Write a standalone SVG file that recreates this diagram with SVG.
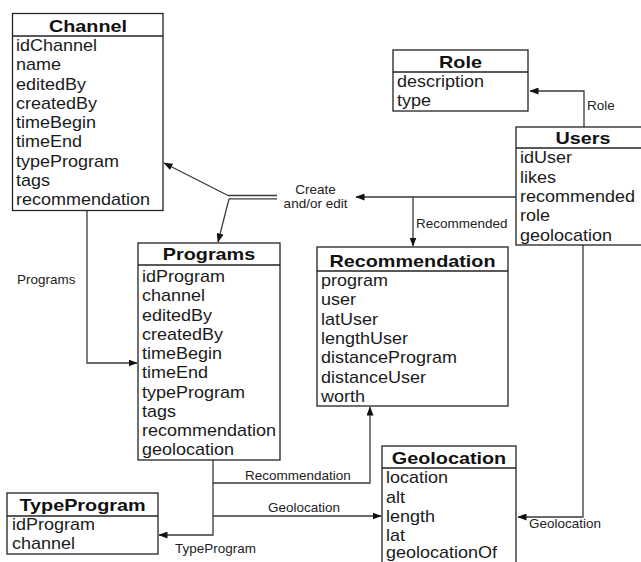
<svg xmlns="http://www.w3.org/2000/svg" width="641" height="562" viewBox="0 0 641 562">
<defs>
<marker id="ah" markerWidth="9" markerHeight="7" refX="8.5" refY="3.5" orient="auto" markerUnits="userSpaceOnUse">
<path d="M0,0 L9,3.5 L0,7 z" fill="#111"/>
</marker>
<style>
.box{fill:#fff;stroke:#222;stroke-width:1.3}
.div{stroke:#222;stroke-width:1.3}
.t{font-family:"Liberation Sans",Arial,sans-serif;font-weight:bold;font-size:16.5px;fill:#111;text-anchor:middle}
.r{font-family:"Liberation Sans",Arial,sans-serif;font-size:16px;fill:#1a1a1a}
.l{font-family:"Liberation Sans",Arial,sans-serif;font-size:12px;fill:#222}
.c{fill:none;stroke:#3a3a3a;stroke-width:1.3}
.ca{fill:none;stroke:#3a3a3a;stroke-width:1.3;marker-end:url(#ah)}
</style>
</defs>
<rect width="641" height="562" fill="#fff"/>

<g id="connectors">
<line class="ca" x1="516" y1="197" x2="356" y2="197"/>
<line class="ca" x1="413" y1="197" x2="413" y2="246"/>
<line class="c" x1="228" y1="195.5" x2="277" y2="195.5"/>
<line class="c" x1="229" y1="198.8" x2="277" y2="198.8"/>
<line class="ca" x1="228" y1="195.5" x2="164" y2="163"/>
<line class="ca" x1="229" y1="198.8" x2="218" y2="242"/>
<polyline class="ca" points="584,127 584,91 530,91"/>
<polyline class="ca" points="583,245 583,517 518,517"/>
<polyline class="ca" points="87,211 87,363 137,363"/>
<polyline class="ca" points="213,460 213,483 370,483 370,407"/>
<line class="ca" x1="213" y1="516" x2="381" y2="516"/>
<polyline class="ca" points="213,483 213,535 159,535"/>

<text class="l" text-anchor="middle" transform="translate(315.5,194) scale(1.125,1)">Create</text>
<text class="l" text-anchor="middle" transform="translate(315.5,208) scale(1.125,1)">and/or edit</text>
<text class="l" transform="translate(416,228) scale(1.125,1)">Recommended</text>
<text class="l" transform="translate(587,110) scale(1.125,1)">Role</text>
<text class="l" transform="translate(529,528) scale(1.125,1)">Geolocation</text>
<text class="l" transform="translate(17,284) scale(1.125,1)">Programs</text>
<text class="l" transform="translate(245,480) scale(1.125,1)">Recommendation</text>
<text class="l" transform="translate(268,512) scale(1.125,1)">Geolocation</text>
<text class="l" transform="translate(175,553) scale(1.125,1)">TypeProgram</text>
</g>

<g id="channel">
<rect class="box" x="12.5" y="13.5" width="150.5" height="197"/>
<line class="div" x1="12.5" y1="36" x2="163" y2="36"/>
<text class="t" transform="translate(88,32) scale(1.2,1)">Channel</text>
<text class="r" transform="translate(16,51) scale(1.125,1)">idChannel</text>
<text class="r" transform="translate(16,70.3) scale(1.125,1)">name</text>
<text class="r" transform="translate(16,89.5) scale(1.125,1)">editedBy</text>
<text class="r" transform="translate(16,108.8) scale(1.125,1)">createdBy</text>
<text class="r" transform="translate(16,128) scale(1.125,1)">timeBegin</text>
<text class="r" transform="translate(16,147.3) scale(1.125,1)">timeEnd</text>
<text class="r" transform="translate(16,166.5) scale(1.125,1)">typeProgram</text>
<text class="r" transform="translate(16,185.8) scale(1.125,1)">tags</text>
<text class="r" transform="translate(16,205) scale(1.125,1)">recommendation</text>
</g>

<g id="programs">
<rect class="box" x="138" y="243" width="142" height="217"/>
<line class="div" x1="138" y1="265" x2="280" y2="265"/>
<text class="t" transform="translate(209,260) scale(1.2,1)">Programs</text>
<text class="r" transform="translate(142,282) scale(1.125,1)">idProgram</text>
<text class="r" transform="translate(142,301.2) scale(1.125,1)">channel</text>
<text class="r" transform="translate(142,320.5) scale(1.125,1)">editedBy</text>
<text class="r" transform="translate(142,339.7) scale(1.125,1)">createdBy</text>
<text class="r" transform="translate(142,359) scale(1.125,1)">timeBegin</text>
<text class="r" transform="translate(142,378.2) scale(1.125,1)">timeEnd</text>
<text class="r" transform="translate(142,397.5) scale(1.125,1)">typeProgram</text>
<text class="r" transform="translate(142,416.7) scale(1.125,1)">tags</text>
<text class="r" transform="translate(142,436) scale(1.125,1)">recommendation</text>
<text class="r" transform="translate(142,455.2) scale(1.125,1)">geolocation</text>
</g>

<g id="recommendation">
<rect class="box" x="317" y="247" width="191" height="159"/>
<line class="div" x1="317" y1="271" x2="508" y2="271"/>
<text class="t" transform="translate(412.5,267) scale(1.2,1)">Recommendation</text>
<text class="r" transform="translate(321,286) scale(1.125,1)">program</text>
<text class="r" transform="translate(321,305.3) scale(1.125,1)">user</text>
<text class="r" transform="translate(321,324.6) scale(1.125,1)">latUser</text>
<text class="r" transform="translate(321,343.9) scale(1.125,1)">lengthUser</text>
<text class="r" transform="translate(321,363.2) scale(1.125,1)">distanceProgram</text>
<text class="r" transform="translate(321,382.5) scale(1.125,1)">distanceUser</text>
<text class="r" transform="translate(321,401.8) scale(1.125,1)">worth</text>
</g>

<g id="role">
<rect class="box" x="393" y="50" width="135" height="61"/>
<line class="div" x1="393" y1="72" x2="528" y2="72"/>
<text class="t" transform="translate(460.5,68) scale(1.2,1)">Role</text>
<text class="r" transform="translate(397,86.5) scale(1.125,1)">description</text>
<text class="r" transform="translate(397,105.8) scale(1.125,1)">type</text>
</g>

<g id="users">
<rect class="box" x="516" y="127" width="130" height="118"/>
<line class="div" x1="516" y1="148" x2="646" y2="148"/>
<text class="t" transform="translate(583,144) scale(1.2,1)">Users</text>
<text class="r" transform="translate(520,163.3) scale(1.125,1)">idUser</text>
<text class="r" transform="translate(520,182.6) scale(1.125,1)">likes</text>
<text class="r" transform="translate(520,201.9) scale(1.125,1)">recommended</text>
<text class="r" transform="translate(520,221.2) scale(1.125,1)">role</text>
<text class="r" transform="translate(520,240.5) scale(1.125,1)">geolocation</text>
</g>

<g id="typeprogram">
<rect class="box" x="7" y="493" width="151" height="61"/>
<line class="div" x1="7" y1="516" x2="158" y2="516"/>
<text class="t" transform="translate(82.5,511) scale(1.2,1)">TypeProgram</text>
<text class="r" transform="translate(12,530) scale(1.125,1)">idProgram</text>
<text class="r" transform="translate(12,549.3) scale(1.125,1)">channel</text>
</g>

<g id="geolocation">
<rect class="box" x="382" y="446" width="134" height="130"/>
<line class="div" x1="382" y1="468" x2="516" y2="468"/>
<text class="t" transform="translate(449,464) scale(1.2,1)">Geolocation</text>
<text class="r" transform="translate(386,483.3) scale(1.125,1)">location</text>
<text class="r" transform="translate(386,502.6) scale(1.125,1)">alt</text>
<text class="r" transform="translate(386,521.9) scale(1.125,1)">length</text>
<text class="r" transform="translate(386,541.2) scale(1.125,1)">lat</text>
<text class="r" transform="translate(386,558.2) scale(1.125,1)">geolocationOf</text>
</g>
</svg>
